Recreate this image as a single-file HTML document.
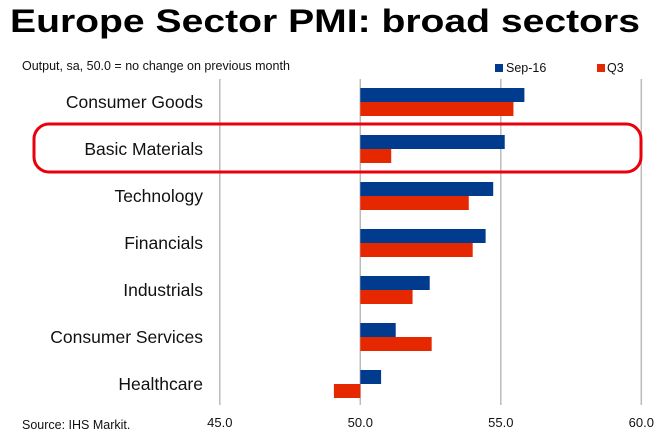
<!DOCTYPE html>
<html><head><meta charset="utf-8"><style>
body{margin:0;background:#fff;}
svg{display:block;font-family:"Liberation Sans",Arial,sans-serif;}
</style></head><body>
<svg id="chart" width="664" height="441" viewBox="0 0 664 441">
<text x="10" y="32" font-size="32" font-weight="bold" fill="#000" textLength="630" lengthAdjust="spacingAndGlyphs">Europe Sector PMI: broad sectors</text>
<text x="22" y="70" font-size="12.5" fill="#111">Output, sa, 50.0 = no change on previous month</text>
<g id="grid"></g>
<g id="bars"></g>
<g id="labels"></g>
<g id="ticks"></g>
<g>
<rect x="495" y="64" width="8" height="8" fill="#003b8e"/>
<text x="506" y="72" font-size="12.5" fill="#111">Sep-16</text>
<rect x="597" y="64" width="8" height="8" fill="#e62800"/>
<text x="607" y="72" font-size="12.5" fill="#111">Q3</text>
</g>
<rect x="34" y="124" width="607" height="48" rx="15" ry="15" fill="none" stroke="#e8000b" stroke-width="3"/>
<text x="22" y="429" font-size="12.5" fill="#111">Source: IHS Markit.</text>
</svg>
<script>
const categories = ["Consumer Goods","Basic Materials","Technology","Financials","Industrials","Consumer Services","Healthcare"];
const sep16 = [55.84,55.14,54.73,54.46,52.47,51.26,50.74];
const q3 = [55.45,51.1,53.86,54.0,51.86,52.54,49.06];
const ticks = [45,50,55,60];
const tickLabels = ["45.0","50.0","55.0","60.0"];

const NS="http://www.w3.org/2000/svg";
const x = v => 360.3 + (v-50)*28.1;
const yc = i => 102 + i*47;
function mk(tag, attrs, parent){const e=document.createElementNS(NS,tag);for(const k in attrs)e.setAttribute(k,attrs[k]);parent.appendChild(e);return e;}
const grid=document.getElementById('grid'), bars=document.getElementById('bars'), labels=document.getElementById('labels'), tk=document.getElementById('ticks');
ticks.forEach((t,i)=>{
  const l=mk('line',{x1:x(t),x2:x(t),y1:79,y2:405,stroke:'#bbb','stroke-width':1.5},grid);
  
  
  const tx=mk('text',{x:x(t),y:427,'font-size':13,'text-anchor':'middle',fill:'#111'},tk);
  tx.textContent=tickLabels[i];
  
  
});
categories.forEach((c,i)=>{
  const y=yc(i);
  const b1=mk('rect',{x:Math.min(x(50),x(sep16[i])),y:y-14,width:Math.abs(x(sep16[i])-x(50)),height:14,fill:'#003b8e'},bars);
  
  
  const b2=mk('rect',{x:Math.min(x(50),x(q3[i])),y:y,width:Math.abs(x(q3[i])-x(50)),height:14,fill:'#e62800'},bars);
  
  
  const t=mk('text',{x:203,y:y+6,'font-size':17.5,'text-anchor':'end',fill:'#111'},labels);
  t.textContent=c;
  
  
});
</script>
</body></html>
